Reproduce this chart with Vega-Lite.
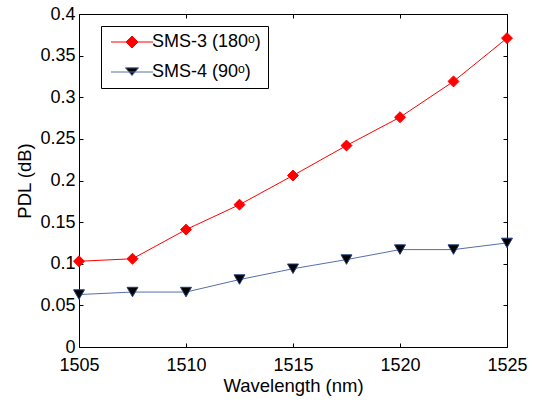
{
  "$schema": "https://vega.github.io/schema/vega-lite/v6.json",
  "autosize": {"type": "none"},
  "padding": {"left": 79, "top": 14, "right": 28, "bottom": 56},
  "width": 428,
  "height": 333,
  "background": "white",
  "config": {
    "view": {"stroke": "black", "strokeWidth": 1},
    "axis": {
      "labelFont": "Liberation Sans",
      "titleFont": "Liberation Sans",
      "labelFontSize": 18,
      "titleFontSize": 18.5,
      "titleFontWeight": "normal",
      "labelColor": "black",
      "titleColor": "black",
      "tickColor": "black",
      "grid": false,
      "domain": false,
      "tickSize": -4,
      "labelPadding": 8,
      "labelFlush": false,
      "labelOverlap": false
    }
  },
  "data": {
    "values": [
      {"wavelength": 1505, "pdl": 0.103, "series": "SMS-3 (180ᵒ)"},
      {"wavelength": 1507.5, "pdl": 0.106, "series": "SMS-3 (180ᵒ)"},
      {"wavelength": 1510, "pdl": 0.141, "series": "SMS-3 (180ᵒ)"},
      {"wavelength": 1512.5, "pdl": 0.171, "series": "SMS-3 (180ᵒ)"},
      {"wavelength": 1515, "pdl": 0.206, "series": "SMS-3 (180ᵒ)"},
      {"wavelength": 1517.5, "pdl": 0.242, "series": "SMS-3 (180ᵒ)"},
      {"wavelength": 1520, "pdl": 0.276, "series": "SMS-3 (180ᵒ)"},
      {"wavelength": 1522.5, "pdl": 0.319, "series": "SMS-3 (180ᵒ)"},
      {"wavelength": 1525, "pdl": 0.371, "series": "SMS-3 (180ᵒ)"},
      {"wavelength": 1505, "pdl": 0.063, "series": "SMS-4 (90ᵒ)"},
      {"wavelength": 1507.5, "pdl": 0.066, "series": "SMS-4 (90ᵒ)"},
      {"wavelength": 1510, "pdl": 0.066, "series": "SMS-4 (90ᵒ)"},
      {"wavelength": 1512.5, "pdl": 0.081, "series": "SMS-4 (90ᵒ)"},
      {"wavelength": 1515, "pdl": 0.094, "series": "SMS-4 (90ᵒ)"},
      {"wavelength": 1517.5, "pdl": 0.105, "series": "SMS-4 (90ᵒ)"},
      {"wavelength": 1520, "pdl": 0.117, "series": "SMS-4 (90ᵒ)"},
      {"wavelength": 1522.5, "pdl": 0.117, "series": "SMS-4 (90ᵒ)"},
      {"wavelength": 1525, "pdl": 0.125, "series": "SMS-4 (90ᵒ)"}
    ]
  },
  "layer": [
    {
      "mark": {"type": "line", "strokeWidth": 1},
      "encoding": {
        "x": {
          "field": "wavelength", "type": "quantitative",
          "scale": {"domain": [1505, 1525], "nice": false, "zero": false},
          "axis": {"orient": "bottom", "values": [1505, 1510, 1515, 1520, 1525], "format": "d", "title": "Wavelength (nm)", "titlePadding": 2, "labelPadding": 13}
        },
        "y": {
          "field": "pdl", "type": "quantitative",
          "scale": {"domain": [0, 0.4], "nice": false, "zero": true},
          "axis": {"orient": "left", "values": [0, 0.05, 0.1, 0.15, 0.2, 0.25, 0.3, 0.35, 0.4], "format": "~g", "title": "PDL (dB)", "titlePadding": 5}
        },
        "color": {
          "field": "series", "type": "nominal",
          "scale": {"domain": ["SMS-3 (180ᵒ)", "SMS-4 (90ᵒ)"], "range": ["#ff0000", "#5470a8"]},
          "legend": null
        }
      }
    },
    {
      "mark": {"type": "point", "filled": true, "size": 120, "strokeWidth": 1, "opacity": 1},
      "encoding": {
        "x": {
          "field": "wavelength", "type": "quantitative",
          "axis": {"orient": "top", "values": [1505, 1510, 1515, 1520, 1525], "labels": false, "title": null}
        },
        "y": {
          "field": "pdl", "type": "quantitative",
          "axis": {"orient": "right", "values": [0, 0.05, 0.1, 0.15, 0.2, 0.25, 0.3, 0.35, 0.4], "labels": false, "title": null}
        },
        "shape": {
          "field": "series", "type": "nominal",
          "scale": {"domain": ["SMS-3 (180ᵒ)", "SMS-4 (90ᵒ)"], "range": ["diamond", "triangle-down"]},
          "legend": null
        },
        "fill": {
          "field": "series", "type": "nominal",
          "scale": {"domain": ["SMS-3 (180ᵒ)", "SMS-4 (90ᵒ)"], "range": ["#ff0000", "#000000"]},
          "legend": null
        },
        "stroke": {
          "field": "series", "type": "nominal",
          "scale": {"domain": ["SMS-3 (180ᵒ)", "SMS-4 (90ᵒ)"], "range": ["#ff0000", "#1f3f7f"]},
          "legend": null
        }
      }
    },
    {
      "transform": [{"filter": "datum.pdl < 0"}],
      "mark": {"type": "point", "filled": true, "size": 144, "strokeWidth": 1, "opacity": 1},
      "encoding": {
        "x": {"field": "wavelength", "type": "quantitative", "axis": null},
        "y": {"field": "pdl", "type": "quantitative", "axis": null},
        "shape": {
          "field": "series", "type": "nominal",
          "scale": {"domain": ["SMS-3 (180ᵒ)", "SMS-4 (90ᵒ)"], "range": ["M-3.5,0L3.5,0M0,-1L1,0L0,1L-1,0Z", "M-3.5,0L3.5,0M-1.1,-0.7L1.1,-0.7L0,0.6Z"]},
          "legend": {
            "orient": "none",
            "legendX": 22,
            "legendY": 12,
            "title": null,
            "strokeColor": "black",
            "fillColor": "white",
            "padding": 7,
            "symbolSize": 144,
            "symbolOffset": 15,
            "labelOffset": 11,
            "labelFont": "Liberation Sans",
            "labelFontSize": 18,
            "labelColor": "black",
            "labelLimit": 300,
            "rowPadding": 12,
            "symbolStrokeWidth": 1,
            "symbolOpacity": 1
          }
        },
        "fill": {
          "field": "series", "type": "nominal",
          "scale": {"domain": ["SMS-3 (180ᵒ)", "SMS-4 (90ᵒ)"], "range": ["#ff0000", "#000000"]}
        },
        "stroke": {
          "field": "series", "type": "nominal",
          "scale": {"domain": ["SMS-3 (180ᵒ)", "SMS-4 (90ᵒ)"], "range": ["#ff0000", "#5470a8"]}
        }
      }
    }
  ],
  "resolve": {
    "axis": {"x": "independent", "y": "independent"},
    "scale": {"shape": "independent", "fill": "independent", "stroke": "independent"}
  }
}
